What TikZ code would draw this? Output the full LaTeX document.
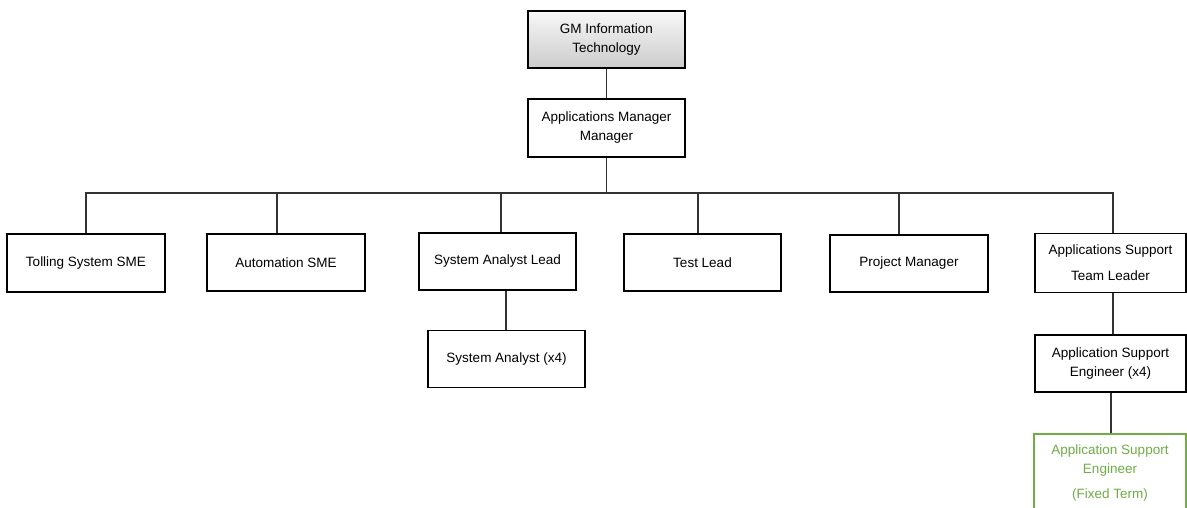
\documentclass[tikz,border=0pt]{standalone}
\usepackage{fontspec}
\setmainfont{Liberation Sans}
\usepackage{xcolor}
\definecolor{termgreen}{HTML}{70AD47}

\tikzset{
    post/.style = {draw, line width=1.1pt, fill=white, align=center,
        minimum width=157pt, minimum height=57pt, inner sep=0pt,
        font=\fontsize{13.5}{19}\selectfont},
    toppost/.style = {post, top color=black!3, bottom color=black!20},
    tempost/.style = {post, draw=termgreen, text=termgreen},
    link/.style = {line width=1.2pt, draw=black!80}
}

\begin{document}
\begin{tikzpicture}[x=1pt, y=-1pt]
    \useasboundingbox (0,0) rectangle (1187,508);

    \node[toppost] (gm) at (606.5,39.5) {GM Information\\Technology};
    \node[post, minimum height=58pt] (appmgr) at (606.5,128) {Applications Manager\\Manager};
    \coordinate (bus) at (606.5,193);

    \node[post, minimum width=158pt, minimum height=58pt] (tolling) at (86,263) {Tolling System SME};
    \node[post, minimum width=158pt] (automation) at (286,262.5) {Automation SME};
    \node[post] (analystlead) at (497.5,261.5) {System Analyst Lead};
    \node[post] (testlead) at (702.5,262.5) {Test Lead};
    \node[post, minimum width=158pt] (projmgr) at (909,263.5) {Project Manager};
    \node[post, minimum width=151pt, minimum height=59pt] (supportlead) at (1110.5,263)
        {Applications Support\\[7pt]Team Leader};

    \node[post] (analyst) at (506.5,359) {System Analyst (x4)};
    \node[post, minimum width=151pt] (engineer) at (1110.5,363.5) {Application Support\\Engineer (x4)};
    \node[tempost, minimum width=152pt, minimum height=78pt] (fixedterm) at (1110,473)
        {Application Support\\Engineer\\[6pt](Fixed Term)};

    % reporting lines
    \draw[link] (gm) -- (appmgr);
    \draw[link] (appmgr) -- (bus);
    \draw[link] (bus) -| (tolling.north);
    \draw[link] (bus) -| ([xshift=-9pt]automation.north);
    \draw[link] (bus) -| ([xshift=3.5pt]analystlead.north);
    \draw[link] (bus) -| ([xshift=-4.5pt]testlead.north);
    \draw[link] (bus) -| ([xshift=-10pt]projmgr.north);
    \draw[link] (bus) -| ([xshift=2.5pt]supportlead.north);
    \draw[link] ([xshift=-0.5pt]analyst.north) -- ([xshift=-0.5pt]analyst.north |- analystlead.south);
    \draw[link] ([xshift=2.5pt]engineer.north) -- ([xshift=2.5pt]supportlead.south);
    \draw[link] ([xshift=1pt]fixedterm.north) -- ([xshift=1pt]fixedterm.north |- engineer.south);
\end{tikzpicture}
\end{document}
